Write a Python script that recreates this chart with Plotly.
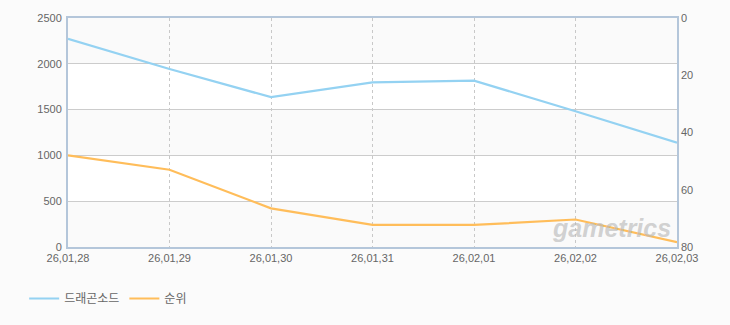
import plotly.graph_objects as go

dates = ["26,01,28", "26,01,29", "26,01,30", "26,01,31", "26,02,01", "26,02,02", "26,02,03"]
dragon_sword = [2273, 1943, 1636, 1798, 1816, 1482, 1139]
rank = [48, 53, 66.5, 72.3, 72.3, 70.4, 78.3]

series_names = ["드래곤소드", "순위"]
left_ticks = [0, 500, 1000, 1500, 2000, 2500]
right_ticks = [0, 20, 40, 60, 80]

fig = go.Figure()
fig.add_trace(go.Scatter(x=dates, y=dragon_sword, name=series_names[0], mode="lines",
                         line=dict(color="#94d2f2", width=2.2), yaxis="y"))
fig.add_trace(go.Scatter(x=dates, y=rank, name=series_names[1], mode="lines",
                         line=dict(color="#ffbd5a", width=2.2), yaxis="y2"))

# alternating bands
for i in range(0, len(left_ticks) - 1, 2):
    fig.add_shape(type="rect", xref="paper", yref="y", x0=0, x1=1,
                  y0=left_ticks[i], y1=left_ticks[i + 1],
                  fillcolor="#fafafa", line=dict(width=0), layer="below")

fig.add_annotation(text="<b><i>gametrics</i></b>", xref="paper", yref="paper",
                   x=0.893, y=0.085, xanchor="center", yanchor="middle", showarrow=False,
                   font=dict(family="Liberation Sans", size=25, color="rgba(185,185,185,0.65)"))

font_tick = dict(family="Liberation Sans, Arial", size=11, color="#666666")

fig.update_layout(
    width=730, height=325,
    margin=dict(l=68, r=53, t=16, b=77),
    paper_bgcolor="#fbfbfb",
    plot_bgcolor="#ffffff",
    showlegend=True,
    legend=dict(orientation="h", x=-0.072, y=-0.225, xanchor="left", yanchor="middle",
                font=dict(family="Noto Sans CJK KR", size=12, color="#666666"),
                bgcolor="rgba(0,0,0,0)", itemwidth=30, tracegroupgap=0),
    xaxis=dict(type="category", range=[0, len(dates) - 1],
               showgrid=True, gridcolor="#c8c8c8", griddash="3px,3px", gridwidth=1,
               showline=True, linecolor="#b4c6da", linewidth=2, mirror=True,
               ticks="", tickfont=font_tick, zeroline=False),
    yaxis=dict(range=[0, 2500], tickvals=left_ticks, showgrid=True, gridcolor="#cccccc",
               gridwidth=1, showline=True, linecolor="#b4c6da", linewidth=2, mirror=True,
               ticks="", tickfont=font_tick, zeroline=False, ticklabelstandoff=2),
    yaxis2=dict(range=[80, 0], tickvals=right_ticks, overlaying="y", side="right",
                showgrid=False, showline=False, ticks="", tickfont=font_tick,
                zeroline=False, ticklabelstandoff=3),
)

fig.write_html("out.html")
